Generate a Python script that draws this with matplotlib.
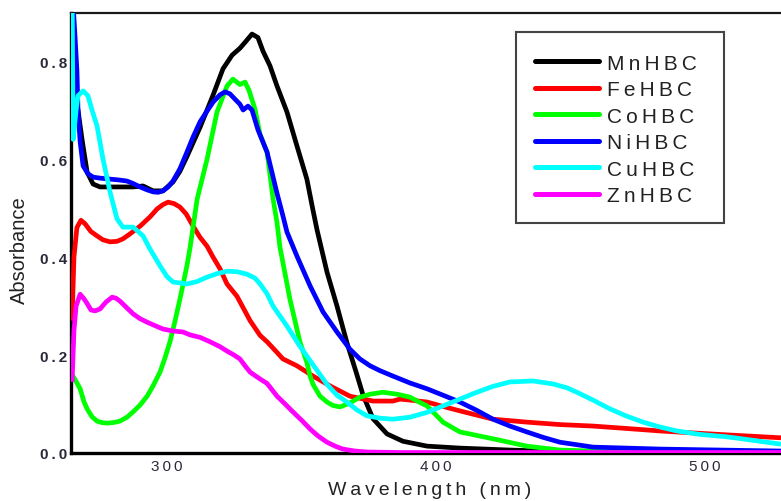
import matplotlib
matplotlib.use("Agg")
import matplotlib.pyplot as plt
from matplotlib.patches import Rectangle

plt.rcParams['font.family'] = ['Liberation Sans', 'DejaVu Sans']

# Absorption spectra of the metal HBC complexes (wavelength in nm, absorbance)
mn_x = [265.1, 266.9, 268.4, 270.3, 272.5, 275.1, 282.5, 287.4, 291.1, 294.8, 298.5, 302.2,
        304.8, 307.4, 312.3, 317.1, 320.8, 324.2, 327.1, 329.0, 331.6, 333.8, 335.7, 338.3,
        340.9, 344.6, 348.3, 352.0, 354.3, 355.8, 359.5, 363.2, 366.9, 370.6, 372.9, 376.6,
        381.8, 387.7, 396.7, 408.9, 427.5, 446.1, 479.6, 528.3]
mn_y = [0.75, 0.70, 0.64, 0.573, 0.549, 0.543, 0.543, 0.543, 0.545, 0.535, 0.535, 0.553,
        0.575, 0.605, 0.665, 0.730, 0.784, 0.812, 0.826, 0.838, 0.855, 0.848, 0.820, 0.790,
        0.749, 0.696, 0.627, 0.559, 0.495, 0.455, 0.369, 0.300, 0.225, 0.160, 0.118, 0.070,
        0.039, 0.024, 0.014, 0.010, 0.006, 0.003, 0.002, 0.002]

fe_x = [264.7, 265.4, 266.5, 268.0, 269.5, 271.7, 274.0, 276.2, 278.8, 281.4, 283.6, 286.2,
        290.0, 293.7, 296.3, 298.5, 300.4, 302.6, 304.8, 307.1, 309.7, 312.3, 314.9, 317.1,
        319.7, 322.3, 326.0, 330.9, 334.6, 337.2, 340.1, 343.1, 348.3, 354.3, 360.6, 368.0,
        376.6, 384.0, 386.6, 390.3, 396.7, 402.6, 408.9, 421.2, 433.8, 446.1, 458.4, 471.0,
        483.3, 495.5, 508.2, 528.3]
fe_y = [0.27, 0.40, 0.46, 0.475, 0.468, 0.452, 0.443, 0.435, 0.431, 0.432, 0.437, 0.447,
        0.463, 0.482, 0.498, 0.507, 0.512, 0.509, 0.502, 0.488, 0.463, 0.440, 0.422, 0.400,
        0.376, 0.345, 0.320, 0.270, 0.240, 0.227, 0.210, 0.192, 0.178, 0.157, 0.137, 0.116,
        0.106, 0.106, 0.110, 0.108, 0.104, 0.095, 0.086, 0.069, 0.063, 0.058, 0.055, 0.050,
        0.045, 0.041, 0.037, 0.031]

co_x = [264.7, 265.8, 267.7, 269.1, 270.3, 272.1, 274.0, 275.8, 277.7, 279.9, 282.5, 285.1,
        287.4, 290.0, 292.6, 294.8, 297.4, 299.3, 301.1, 303.0, 304.8, 307.4, 308.6, 311.2,
        314.9, 318.6, 322.3, 324.5, 327.1, 329.0, 330.5, 332.7, 334.6, 337.2, 339.4, 340.9,
        342.0, 345.7, 349.4, 352.0, 353.2, 354.3, 356.9, 359.5, 361.7, 364.3, 368.0, 371.7,
        375.5, 380.3, 385.5, 390.3, 394.1, 396.7, 399.6, 402.6, 408.9, 421.2, 433.8, 446.1,
        458.4, 479.6, 528.3]
co_y = [0.160, 0.150, 0.131, 0.105, 0.090, 0.074, 0.065, 0.062, 0.061, 0.062, 0.065, 0.073,
        0.084, 0.098, 0.116, 0.137, 0.165, 0.195, 0.227, 0.270, 0.314, 0.382, 0.420, 0.518,
        0.600, 0.696, 0.749, 0.763, 0.752, 0.757, 0.740, 0.702, 0.650, 0.614, 0.520, 0.470,
        0.420, 0.314, 0.227, 0.185, 0.157, 0.140, 0.116, 0.104, 0.097, 0.094, 0.102, 0.114,
        0.120, 0.124, 0.120, 0.114, 0.103, 0.096, 0.080, 0.063, 0.043, 0.029, 0.014, 0.006,
        0.004, 0.002, 0.001]

ni_x = [264.7, 265.8, 266.5, 266.9, 267.7, 268.8, 270.6, 272.5, 275.1, 278.8, 282.5, 285.1,
        287.4, 290.0, 292.6, 294.8, 296.7, 298.5, 300.4, 302.2, 304.8, 307.4, 309.7, 312.3,
        314.9, 317.1, 319.7, 321.6, 323.4, 325.3, 327.1, 328.3, 330.1, 331.6, 333.8, 337.2,
        340.9, 343.1, 344.6, 348.3, 353.2, 358.0, 363.2, 368.0, 371.7, 375.5, 379.2, 384.0,
        390.3, 396.7, 402.6, 408.9, 415.2, 421.2, 427.5, 433.8, 439.8, 446.1, 458.4, 483.3,
        528.3]
ni_y = [0.95, 0.85, 0.78, 0.70, 0.635, 0.586, 0.570, 0.563, 0.561, 0.559, 0.557, 0.555,
        0.550, 0.543, 0.537, 0.533, 0.532, 0.535, 0.543, 0.555, 0.580, 0.614, 0.645, 0.676,
        0.698, 0.716, 0.731, 0.737, 0.733, 0.722, 0.712, 0.700, 0.708, 0.700, 0.660, 0.614,
        0.530, 0.484, 0.451, 0.402, 0.341, 0.288, 0.247, 0.212, 0.192, 0.178, 0.168, 0.157,
        0.143, 0.131, 0.118, 0.104, 0.087, 0.069, 0.055, 0.043, 0.032, 0.022, 0.012, 0.008,
        0.004]

cu_x = [264.7, 265.1, 266.2, 266.9, 268.8, 270.6, 272.1, 274.0, 276.2, 278.8, 281.4, 283.6,
        287.4, 291.1, 293.7, 297.4, 300.0, 302.2, 307.4, 311.2, 314.9, 318.6, 322.3, 326.0,
        329.7, 332.7, 334.6, 337.2, 339.4, 344.6, 349.4, 354.3, 359.5, 363.2, 366.9, 370.6,
        374.3, 379.2, 384.0, 390.3, 396.7, 402.6, 408.9, 415.2, 421.2, 427.5, 436.1, 443.5,
        448.7, 452.4, 458.4, 464.7, 471.0, 477.0, 483.3, 489.6, 498.1, 508.2, 517.8, 528.3]
cu_y = [0.95, 0.64, 0.700, 0.729, 0.739, 0.729, 0.700, 0.667, 0.600, 0.533, 0.478, 0.461,
        0.461, 0.443, 0.416, 0.382, 0.360, 0.349, 0.345, 0.350, 0.359, 0.366, 0.371, 0.370,
        0.365, 0.357, 0.345, 0.325, 0.300, 0.259, 0.218, 0.180, 0.140, 0.118, 0.104, 0.088,
        0.076, 0.071, 0.069, 0.073, 0.083, 0.096, 0.110, 0.124, 0.136, 0.145, 0.147, 0.141,
        0.133, 0.124, 0.108, 0.090, 0.075, 0.063, 0.053, 0.045, 0.038, 0.033, 0.026, 0.018]

zn_x = [264.7, 265.4, 266.2, 267.7, 269.1, 270.3, 271.7, 273.2, 275.1, 277.3, 279.6, 281.0,
        282.5, 285.1, 287.4, 290.0, 292.6, 295.5, 298.5, 302.2, 305.9, 308.6, 312.3, 316.0,
        319.7, 322.3, 324.9, 327.1, 329.0, 330.9, 334.6, 337.2, 340.9, 343.9, 346.8, 350.2,
        353.2, 356.1, 359.5, 362.5, 365.4, 369.9, 374.3, 386.6, 528.3]
zn_y = [0.145, 0.250, 0.300, 0.324, 0.315, 0.305, 0.292, 0.290, 0.294, 0.308, 0.318, 0.316,
        0.310, 0.296, 0.284, 0.274, 0.267, 0.260, 0.253, 0.249, 0.247, 0.241, 0.236, 0.227,
        0.217, 0.208, 0.200, 0.192, 0.178, 0.165, 0.151, 0.142, 0.116, 0.100, 0.084, 0.066,
        0.049, 0.035, 0.022, 0.014, 0.008, 0.004, 0.002, 0.001, 0.001]

labels = ['MnHBC', 'FeHBC', 'CoHBC', 'NiHBC', 'CuHBC', 'ZnHBC']
colors = ['#000000', '#ff0000', '#00ff00', '#0000ff', '#00ffff', '#ff00ff']
series = [(mn_x, mn_y), (fe_x, fe_y), (co_x, co_y), (ni_x, ni_y), (cu_x, cu_y), (zn_x, zn_y)]

x_ticks = [300, 400, 500]
y_ticks = [0.0, 0.2, 0.4, 0.6, 0.8]
x_title = 'Wavelength (nm)'
y_title = 'Absorbance'

THIN = '\u2009'


def spaced(s):
    """Letter-spaced version of a string."""
    return THIN.join(s)


W, H = 781, 502
fig = plt.figure(figsize=(W / 100, H / 100), dpi=100)
ax = fig.add_axes([71 / W, 1 - 454 / H, (W - 71) / W, (454 - 14) / H])

for (xs, ys), lab, col in zip(series, labels, colors):
    ax.plot(xs, ys, color=col, lw=3.4, label=spaced(lab),
            solid_capstyle='butt', solid_joinstyle='round')

ax.set_xlim(264.3, 528.3)
ax.set_ylim(0.0, 0.898)

ax.spines['right'].set_visible(False)
ax.spines['left'].set_linewidth(2.4)
ax.spines['bottom'].set_linewidth(2.4)
ax.spines['top'].set_linewidth(1.6)
ax.spines['top'].set_color('#1a1a1a')
for s in ('left', 'bottom', 'top'):
    ax.spines[s].set_zorder(0.5)

ax.set_xticks(x_ticks)
ax.set_xticklabels([spaced(str(v)) for v in x_ticks], fontsize=11, color='#2a2a3a')
ax.set_yticks(y_ticks)
ax.set_yticklabels([spaced(f'{v:.1f}') for v in y_ticks], fontsize=11,
                   fontweight='bold', color='#2a2a3a')
ax.tick_params(axis='both', length=0)
ax.tick_params(axis='x', pad=4)
ax.tick_params(axis='y', pad=3)

ax.set_xlabel(spaced(x_title), fontsize=14, color='#222222')
ax.xaxis.set_label_coords((430 - 71) / (W - 71), (454 - 482) / (454 - 14))
fig.text(19 / W, 1 - 250 / H, y_title, rotation=90, fontsize=14.5,
         color='#222222', ha='center', va='center')

# Legend box: a fixed white frame with the entries laid out on top of it
frame = Rectangle((516 / W, 1 - 224 / H), (724 - 516) / W, (224 - 33) / H,
                  transform=fig.transFigure, facecolor='white',
                  edgecolor='#444444', lw=1.5, zorder=4, clip_on=False)
ax.add_patch(frame)
leg = ax.legend(loc='upper left', bbox_to_anchor=(516 / W, 1 - 36 / H),
                bbox_transform=fig.transFigure, fontsize=15, frameon=False,
                handlelength=3.1, handletextpad=0.35, borderpad=0.9,
                labelspacing=0.36, borderaxespad=0)
leg.set_zorder(5)
for t in leg.get_texts():
    t.set_color('#222222')
for h in leg.get_lines():
    h.set_linewidth(3.6)
    h.set_solid_capstyle('round')

fig.savefig('out.png', dpi=100)
